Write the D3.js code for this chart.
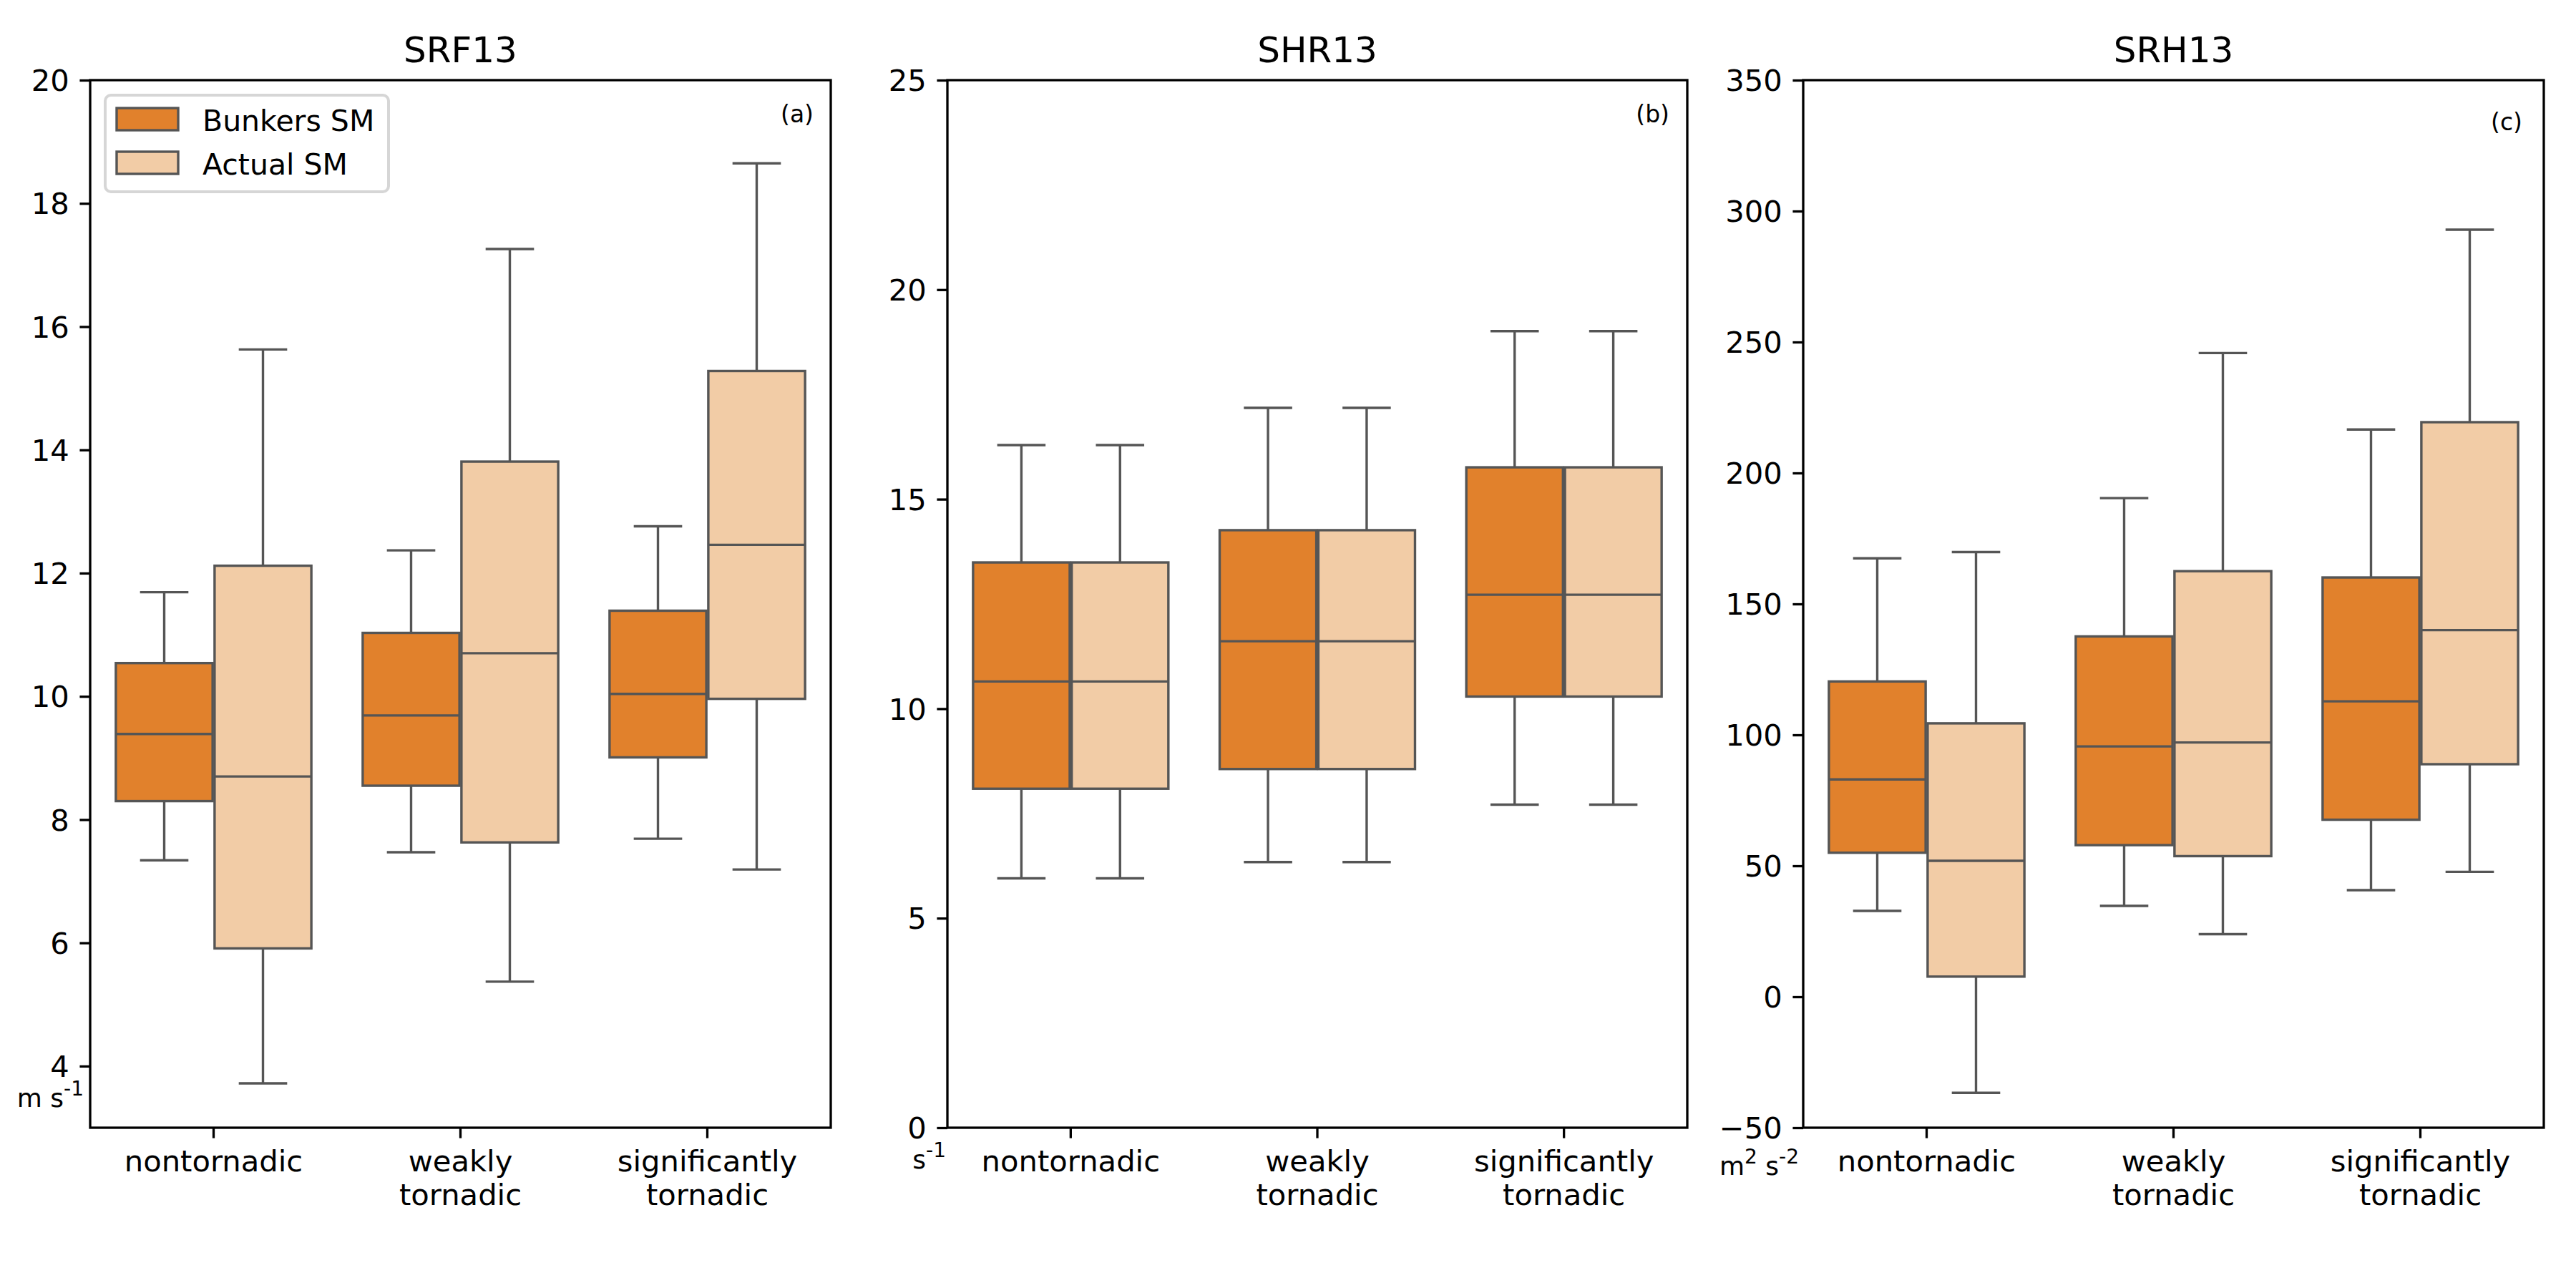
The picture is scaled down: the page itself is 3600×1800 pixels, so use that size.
<!DOCTYPE html>
<html lang="en">
  <head>
    <meta charset="UTF-8" />
    <title>SRF13 / SHR13 / SRH13 box plots</title>
    <script src="https://d3js.org/d3.v7.min.js"></script>
    <style>
      body { margin: 0; background: #fff; }
      svg { display: block; font-family: 'DejaVu Sans', sans-serif; }
    </style>
  </head>
  <body>
    <svg width="3600" height="1800"></svg>
    <script>
      // box stats per category: [lower whisker, q1, median, q3, upper whisker]
      const categories = ['nontornadic', 'weakly tornadic', 'significantly tornadic'];
      const hues = ['Bunkers SM', 'Actual SM'];
      const hueColors = ['#e1812c', '#f2cca6'];

      const titles = ['SRF13', 'SHR13', 'SRH13'];
      const tags = ['(a)', '(b)', '(c)'];

      const srfBunkers = [[7.34, 8.3, 9.39, 10.54, 11.69], [7.47, 8.55, 9.69, 11.03, 12.37], [7.69, 9.01, 10.04, 11.39, 12.76]];
      const srfActual = [[3.72, 5.91, 8.7, 12.12, 15.63], [5.37, 7.63, 10.7, 13.81, 17.26], [7.19, 9.96, 12.46, 15.28, 18.65]];
      const shrBunkers = [[5.95, 8.09, 10.65, 13.49, 16.29], [6.34, 8.56, 11.61, 14.26, 17.18], [7.71, 10.29, 12.72, 15.76, 19.01]];
      const shrActual = [[5.95, 8.09, 10.65, 13.49, 16.29], [6.34, 8.56, 11.61, 14.26, 17.18], [7.71, 10.29, 12.72, 15.76, 19.01]];
      const srhBunkers = [[32.8, 55.0, 83.0, 120.4, 167.4], [34.7, 57.9, 95.6, 137.6, 190.4], [40.7, 67.6, 112.8, 160.1, 216.6]];
      const srhActual = [[-36.7, 7.7, 51.9, 104.4, 169.8], [23.9, 53.7, 97.1, 162.5, 245.8], [47.7, 88.8, 140.0, 219.4, 292.9]];

      const srfTicks = [4, 6, 8, 10, 12, 14, 16, 18, 20];
      const shrTicks = [0, 5, 10, 15, 20, 25];
      const srhTicks = [-50, 0, 50, 100, 150, 200, 250, 300, 350];

      const yDomains = [[3, 20], [0, 25], [-50, 350]];
      const units = [
        [['m s', false], ['-1', true]],
        [['s', false], ['-1', true]],
        [['m', false], ['2', true], [' s', false], ['-2', true]],
      ];

      const panels = [
        { series: [srfBunkers, srfActual], ticks: srfTicks },
        { series: [shrBunkers, shrActual], ticks: shrTicks },
        { series: [srhBunkers, srhActual], ticks: srhTicks },
      ];

      const svg = d3.select('svg');
      const plotTop = 112;
      const plotBottom = 1576;
      const panelX = [[126, 1161], [1324, 2358], [2520, 3555]];
      const tagPos = [[-24, 171], [-25, 171], [-30, 182]];
      const unitPos = [[117, 1547], [1322, 1633], [2514, 1642]];
      const lineColor = '#555555';
      const lw = 3.4;
      const fs = 41.7;
      const tickLen = 14.6;

      panels.forEach((p, i) => {
        const x = d3.scaleBand().domain(categories).range(panelX[i]);
        const bw = x.bandwidth();
        const hx = d3.scaleBand().domain(hues).range([0.1 * bw, 0.9 * bw]);
        const y = d3.scaleLinear().domain(yDomains[i]).range([plotBottom, plotTop]);
        const g = svg.append('g');

        // boxes
        p.series.forEach((s, h) => {
          const boxW = hx.bandwidth() * 0.98;
          const groups = g
            .append('g')
            .selectAll('g')
            .data(s)
            .join('g')
            .attr('transform', (d, k) => `translate(${x(categories[k]) + hx(hues[h]) + hx.bandwidth() / 2},0)`);

          groups
            .append('line')
            .attr('y1', (d) => y(d[0]))
            .attr('y2', (d) => y(d[1]))
            .attr('stroke', lineColor)
            .attr('stroke-width', lw);
          groups
            .append('line')
            .attr('y1', (d) => y(d[3]))
            .attr('y2', (d) => y(d[4]))
            .attr('stroke', lineColor)
            .attr('stroke-width', lw);
          [0, 4].forEach((j) => {
            groups
              .append('line')
              .attr('x1', -boxW / 4)
              .attr('x2', boxW / 4)
              .attr('y1', (d) => y(d[j]))
              .attr('y2', (d) => y(d[j]))
              .attr('stroke', lineColor)
              .attr('stroke-width', lw);
          });
          groups
            .append('rect')
            .attr('x', -boxW / 2)
            .attr('width', boxW)
            .attr('y', (d) => y(d[3]))
            .attr('height', (d) => y(d[1]) - y(d[3]))
            .attr('fill', hueColors[h])
            .attr('stroke', lineColor)
            .attr('stroke-width', lw);
          groups
            .append('line')
            .attr('x1', -boxW / 2)
            .attr('x2', boxW / 2)
            .attr('y1', (d) => y(d[2]))
            .attr('y2', (d) => y(d[2]))
            .attr('stroke', lineColor)
            .attr('stroke-width', lw);
        });

        // axes
        const yAxis = g
          .append('g')
          .attr('transform', `translate(${panelX[i][0]},0)`)
          .call(d3.axisLeft(y).tickValues(p.ticks).tickSize(tickLen).tickPadding(tickLen).tickFormat(d3.format('d')));
        const xAxis = g
          .append('g')
          .attr('transform', `translate(0,${plotBottom})`)
          .call(d3.axisBottom(x).tickSize(tickLen).tickPadding(tickLen));
        [yAxis, xAxis].forEach((a) => {
          a.attr('font-family', null).attr('font-size', null);
          a.select('.domain').remove();
          a.selectAll('.tick line').attr('stroke', '#000').attr('stroke-width', 3.3);
          a.selectAll('.tick text').attr('fill', '#000').style('font-size', fs + 'px');
        });
        yAxis.selectAll('.tick text').attr('dy', '0.35em');
        xAxis.selectAll('.tick text').each(function (d) {
          const t = d3.select(this).text(null).attr('dy', null).attr('y', tickLen * 2 + 31.7);
          d.split(' ').forEach((w, k) => {
            t.append('tspan').attr('x', 0).attr('dy', k === 0 ? 0 : 47).text(w);
          });
        });

        // spines
        g.append('rect')
          .attr('x', panelX[i][0])
          .attr('y', plotTop)
          .attr('width', panelX[i][1] - panelX[i][0])
          .attr('height', plotBottom - plotTop)
          .attr('fill', 'none')
          .attr('stroke', '#000')
          .attr('stroke-width', 3.3);

        g.append('text')
          .attr('x', (panelX[i][0] + panelX[i][1]) / 2)
          .attr('y', 87)
          .attr('text-anchor', 'middle')
          .style('font-size', '50px')
          .text(titles[i]);

        g.append('text')
          .attr('x', panelX[i][1] + tagPos[i][0])
          .attr('y', tagPos[i][1])
          .attr('text-anchor', 'end')
          .style('font-size', '33px')
          .text(tags[i]);

        const u = g
          .append('text')
          .attr('x', unitPos[i][0])
          .attr('y', unitPos[i][1])
          .attr('text-anchor', 'end')
          .style('font-size', '36px');
        let raised = false;
        units[i].forEach(([txt, sup]) => {
          const dy = sup === raised ? 0 : sup ? -16 : 16;
          raised = sup;
          u.append('tspan')
            .attr('dy', dy)
            .style('font-size', sup ? '28px' : '36px')
            .text(txt);
        });
      });

      // legend in panel (a)
      const leg = svg.append('g').attr('transform', 'translate(147,133)');
      leg
        .append('rect')
        .attr('width', 396)
        .attr('height', 135)
        .attr('rx', 8)
        .attr('fill', '#fff')
        .attr('fill-opacity', 0.8)
        .attr('stroke', '#d6d6d6')
        .attr('stroke-width', 4);
      const items = leg
        .selectAll('g')
        .data(hues)
        .join('g')
        .attr('transform', (d, k) => `translate(0,${k * 61})`);
      items
        .append('rect')
        .attr('x', 16)
        .attr('y', 18)
        .attr('width', 86)
        .attr('height', 31)
        .attr('fill', (d, k) => hueColors[k])
        .attr('stroke', lineColor)
        .attr('stroke-width', lw);
      items
        .append('text')
        .attr('x', 136)
        .attr('y', 50)
        .style('font-size', '41px')
        .text((d) => d);
    </script>
  </body>
</html>
